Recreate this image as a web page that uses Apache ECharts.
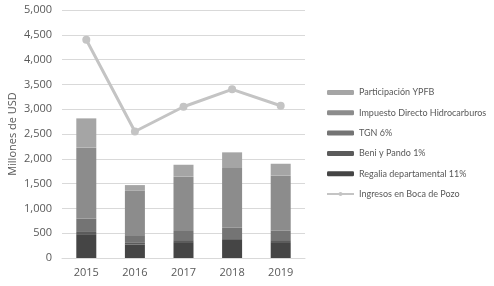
<!DOCTYPE html>
<html>
<head>
    <meta charset="utf-8">
    <title>Ingresos en Boca de Pozo</title>
    <script src="https://cdn.jsdelivr.net/npm/echarts@6/dist/echarts.min.js"></script>
    <style>
        html, body { margin: 0; padding: 0; background: #fff; }
    </style>
</head>
<body>
    <div id="main" style="width: 494px;height:286px;"></div>
    <script type="text/javascript">
        var years = ['2015', '2016', '2017', '2018', '2019'];
        var regalia = [480, 270, 320, 365, 320];
        var beniPando = [45, 35, 40, 35, 40];
        var tgn = [265, 140, 185, 210, 190];
        var idh = [1435, 910, 1095, 1205, 1110];
        var ypfb = [590, 115, 240, 315, 240];
        var bocaPozo = [4400, 2550, 3050, 3400, 3070];
        var yTicks = [0, 500, 1000, 1500, 2000, 2500, 3000, 3500, 4000, 4500, 5000];

        var myChart = echarts.init(document.getElementById('main'));

        var font = 'Open Sans';
        function bar(name, data, color) {
            return {
                name: name,
                type: 'bar',
                stack: 'total',
                barWidth: 20,
                data: data,
                itemStyle: { color: color }
            };
        }

        var option = {
            animation: false,
            textStyle: { fontFamily: font, color: '#595959' },
            grid: { left: 62, right: 189, top: 10, bottom: 28 },
            legend: {
                orient: 'vertical',
                left: 321,
                top: 83,
                padding: 5,
                itemWidth: 27,
                itemHeight: 5,
                itemGap: 11.3,
                textStyle: { fontSize: 9, color: '#595959', fontFamily: 'Lato' },
                data: [
                    'Participación YPFB',
                    'Impuesto Directo Hidrocarburos',
                    'TGN 6%',
                    'Beni y Pando 1%',
                    'Regalia departamental 11%',
                    'Ingresos en Boca de Pozo'
                ]
            },
            xAxis: {
                type: 'category',
                data: years,
                axisLine: { lineStyle: { color: '#d9d9d9' } },
                axisTick: { show: false },
                axisLabel: { fontSize: 11, color: '#595959', margin: 9 }
            },
            yAxis: {
                type: 'value',
                min: yTicks[0],
                max: yTicks[yTicks.length - 1],
                interval: 500,
                name: 'Millones de USD',
                nameLocation: 'middle',
                nameGap: 44,
                nameTextStyle: { fontSize: 11, color: '#595959' },
                axisLabel: {
                    fontSize: 11,
                    color: '#595959',
                    margin: 10,
                    formatter: function (v) { return v.toLocaleString('en-US'); }
                },
                splitLine: { lineStyle: { color: '#d9d9d9' } }
            },
            series: [
                bar('Regalia departamental 11%', regalia, '#454545'),
                bar('Beni y Pando 1%', beniPando, '#5b5b5b'),
                bar('TGN 6%', tgn, '#747474'),
                bar('Impuesto Directo Hidrocarburos', idh, '#8c8c8c'),
                bar('Participación YPFB', ypfb, '#a5a5a5'),
                {
                    name: 'Ingresos en Boca de Pozo',
                    type: 'line',
                    data: bocaPozo,
                    symbol: 'circle',
                    symbolSize: 8,
                    lineStyle: { color: '#c4c4c4', width: 3 },
                    itemStyle: { color: '#c4c4c4' }
                }
            ]
        };

        myChart.setOption(option);
    </script>
</body>
</html>
